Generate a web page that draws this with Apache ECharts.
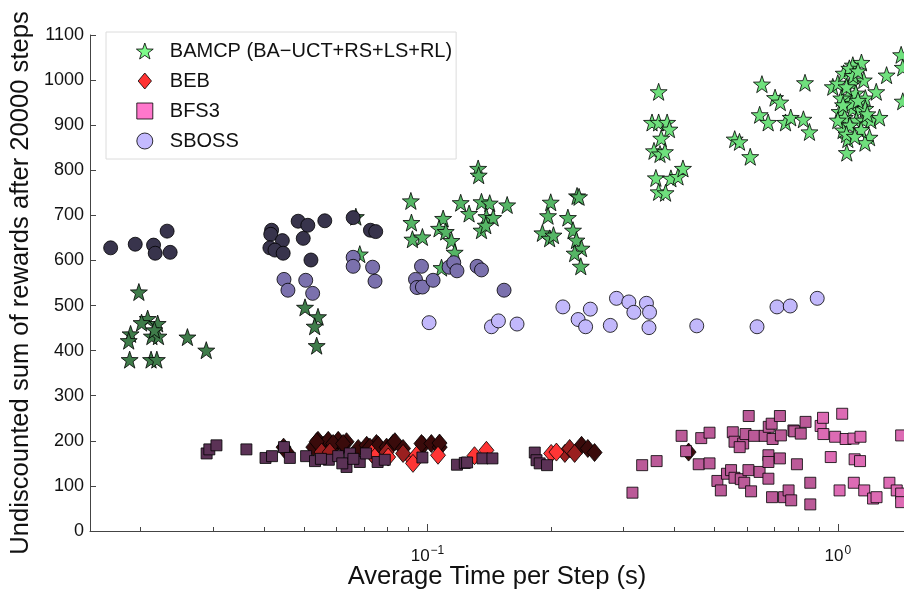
<!DOCTYPE html>
<html><head><meta charset="utf-8">
<script src="https://cdn.jsdelivr.net/npm/echarts@6/dist/echarts.min.js"></script>
<style>html,body{margin:0;padding:0;background:#fff}#c{width:904px;height:590px}</style>
</head><body><div id="c"></div>
<script>
// [time per step (s), undiscounted reward, shade level]
const bamcp = [
 [0.0198,530,1],[0.0208,471,1],[0.0201,462,1],[0.0220,460,1],[0.0189,437,1],[0.0187,422,1],[0.0213,432,1],[0.0221,432,1],[0.0216,446,1],
 [0.0188,380,1],[0.0212,380,1],[0.0219,380,1],[0.0260,430,1],[0.0289,401,1],[0.0503,496,1],[0.0541,475,1],[0.0531,454,1],[0.0537,411,1],[0.0669,697,1],
 [0.0684,614,2],[0.0911,732,2],[0.0914,684,2],[0.0919,647,2],[0.0972,652,2],[0.1092,693,2],[0.1067,671,2],[0.1108,664,2],[0.1144,644,2],[0.1165,618,2],
 [0.1082,584,2],[0.1205,728,2],[0.1263,704,2],[0.1329,804,2],[0.1333,789,2],[0.1354,730,2],[0.1418,727,2],[0.1392,697,2],[0.1446,695,2],[0.1354,667,2],
 [0.1387,678,2],[0.1564,723,2],[0.1997,729,2],[0.1967,699,2],[0.1906,661,2],[0.1985,649,2],[0.2028,656,2],[0.2199,695,2],[0.2263,667,2],[0.2307,645,2],
 [0.2374,627,2],[0.2284,616,2],[0.2364,587,2],[0.2315,743,2],[0.2341,741,2],
 [0.3659,974,3],[0.3526,906,3],[0.3659,906,3],[0.3838,906,3],[0.3888,891,3],[0.3713,871,3],[0.3565,843,3],[0.3687,836,3],[0.3790,841,3],[0.3603,783,3],
 [0.3920,782,3],[0.4080,786,3],[0.4194,804,3],[0.3659,752,3],[0.3804,750,3],[0.5607,869,3],[0.5760,863,3],[0.6118,830,3],[0.6534,991,3],[0.6450,923,3],
 [0.6766,906,3],[0.7033,961,3],[0.7241,951,3],[0.7457,906,3],[0.7679,917,3],[0.8246,913,3],[0.8530,885,3],[0.8320,994,3],
 [0.9723,985,3],[1.000,993,3],[1.034,1015,3],[1.088,1033,3],[1.142,1039,3],[1.067,1026,3],[1.157,1000,3],[1.088,993,3],[1.058,963,3],[1.106,971,3],
 [1.167,960,3],[1.241,974,3],[1.315,1011,3],[1.010,930,3],[1.040,917,3],[1.088,937,3],[1.130,934,3],[1.167,937,3],[1.110,911,3],[1.157,911,3],
 [1.204,911,3],[1.264,917,3],[1.030,889,3],[1.058,869,3],[1.052,839,3],[1.195,873,3],[1.165,861,3],[1.000,911,3],[1.078,948,3],
 [1.020,960,3],[1.050,985,3],[1.120,955,3],[1.070,900,3],[1.140,890,3],[1.030,945,3],[1.090,1010,3],[1.120,1020,3],[1.180,925,3],[1.050,880,3],[1.100,875,3],
 [1.427,1056,3],[1.440,1028,3],[1.440,953,3]
];
const beb = [
 [0.0446,186,1],[0.0454,175,1],[0.0527,186,1],[0.0541,201,1],[0.0557,190,1],[0.0573,201,1],[0.0589,186,1],[0.0606,201,1],[0.0623,190,1],[0.0635,198,1],
 [0.0537,198,1],[0.0589,194,1],[0.0623,194,1],[0.0678,183,1],[0.0711,190,1],[0.0751,194,1],[0.0724,186,1],[0.0759,190,1],[0.0795,186,1],[0.0824,194,1],
 [0.0833,198,1],[0.0872,183,1],[0.0976,190,1],[0.0967,194,1],[0.1022,194,1],[0.1071,186,1],[0.1070,195,1],[0.2374,190,1],[0.2459,183,1],[0.2554,174,1],[0.4329,175,1],
 [0.0552,175,2],[0.0578,175,2],[0.0872,172,2],[0.2162,172,2],[0.2221,183,2],[0.2284,172,2],[0.0795,175,2],
 [0.0731,172,3],[0.0744,164,3],[0.0922,157,3],[0.0940,168,3],[0.0922,150,3],[0.1061,168,3],[0.1302,167,3],[0.1392,179,3],[0.2002,172,3],[0.2062,175,3],[0.0802,164,3]
];
const bfs3 = [
 [0.02896,172,1],[0.0294,181,1],[0.0306,190,1],[0.0362,181,1],[0.0403,162,1],[0.0418,166,1],[0.0447,186,1],[0.0462,162,1],[0.0506,166,1],[0.0532,155,1],
 [0.0575,158,1],[0.0606,166,1],[0.0635,142,1],[0.0647,172,1],[0.0684,153,1],[0.0708,172,1],[0.0756,153,1],[0.0787,158,1],[0.0972,163,1],[0.1180,147,1],
 [0.1233,151,1],[0.1249,152,1],[0.1361,161,1],[0.1440,161,1],[0.1826,174,1],[0.1844,157,1],[0.1877,150,1],[0.1956,146,1],[0.0550,160,1],[0.0620,150,1],[0.0660,160,1],
 [0.3159,85,2],[0.3336,146,2],[0.3618,155,2],[0.4162,211,2],[0.4269,177,2],[0.4647,206,2],[0.4869,218,2],[0.4582,148,2],[0.4869,150,2],[0.5088,111,2],
 [0.5188,90,2],[0.5370,127,2],[0.5494,135,2],[0.5548,219,2],[0.5601,198,2],[0.5880,194,2],[0.5767,186,2],[0.5959,215,2],[0.6066,255,2],[0.5601,118,2],
 [0.5802,115,2],[0.5917,107,2],[0.6056,135,2],[0.6147,88,2],[0.6254,211,2],[0.6448,131,2],[0.6634,211,2],[0.6775,168,2],[0.6775,153,2],[0.6775,116,2],
 [0.6788,231,2],[0.6900,238,2],[0.6937,204,2],[0.7227,255,2],[0.7267,212,2],[0.7227,161,2],[0.6915,75,2],[0.7397,75,2],[0.7588,90,2],[0.7699,68,2],
 [0.7795,223,2],[0.7836,221,2],[0.8124,216,2],[0.7951,148,2],[0.8345,242,2],[0.8570,107,2],[0.8570,59,2],
 [0.9082,233,3],[0.9205,251,3],[0.9223,215,3],[0.9613,164,3],[0.9850,209,3],[1.010,90,3],[1.025,260,3],[1.045,204,3],[1.092,205,3],[1.136,209,3],
 [1.099,159,3],[1.133,155,3],[1.094,107,3],[1.160,90,3],[1.219,72,3],[1.243,75,3],[1.336,107,3],[1.392,90,3],[1.427,212,3],[1.427,83,3],[1.427,64,3]
];
const sboss = [
 [0.0169,628,1],[0.0194,636,1],[0.0215,634,1],[0.0217,616,1],[0.0232,665,1],[0.0236,618,1],[0.0417,667,1],[0.0415,658,1],[0.0443,644,1],[0.0413,628,1],
 [0.0425,623,1],[0.0445,616,1],[0.0484,687,1],[0.0511,678,1],[0.0498,649,1],[0.0520,601,1],[0.0562,688,1],[0.0659,695,1],[0.0726,667,1],[0.0748,664,1],
 [0.0447,558,2],[0.0457,534,2],[0.0505,556,2],[0.0525,527,2],[0.0659,607,2],[0.0659,587,2],[0.0735,585,2],[0.0745,554,2],[0.0967,587,2],[0.0935,558,2],
 [0.0943,540,2],[0.0972,541,2],[0.1032,556,2],[0.1129,585,2],[0.1159,595,2],[0.1180,577,2],[0.1321,587,2],[0.1354,579,2],[0.1537,534,2],
 [0.1009,462,3],[0.1432,453,3],[0.1489,466,3],[0.1653,459,3],[0.2138,497,3],[0.2494,492,3],[0.2329,469,3],[0.2429,453,3],[0.2790,456,3],[0.2888,516,3],
 [0.3096,508,3],[0.3417,505,3],[0.3184,485,3],[0.3477,485,3],[0.3466,451,3],[0.4532,455,3],[0.6356,453,3],[0.7108,497,3],[0.7657,499,3],[0.8910,516,3]
];
const seriesNames = ['BAMCP (BA\u2212UCT+RS+LS+RL)','BEB','BFS3','SBOSS'];
const yTicks = [0,100,200,300,400,500,600,700,800,900,1000,1100];
const xMajor = [0.1, 1];
const xMinor = [0.02,0.03,0.04,0.05,0.06,0.07,0.08,0.09,0.2,0.3,0.4,0.5,0.6,0.7,0.8,0.9];

const STAR = 'path://M1,0 L1.235,0.676 L1.951,0.691 L1.38,1.124 L1.588,1.809 L1,1.4 L0.412,1.809 L0.62,1.124 L0.049,0.691 L0.765,0.676 Z';
const DIAMOND_ICON = 'path://M0.5,0 L1,0.6 L0.5,1.2 L0,0.6 Z';
const SQUARE_ICON = 'path://M0,0 L1,0 L1,1 L0,1 Z';
const shades = {
  star: [null,'#3f7c4a','#55b565','#6fe07d'],
  diamond: [null,'#3a0b0b','#9a1f1f','#ff3535'],
  rect: [null,'#5b3256','#bb5a98','#dd6bb4'],
  circle: [null,'#38344c','#7b71ad','#c2b8fb']
};
const legendColors = ['#7dfb8a','#ff3333','#ff77cc','#c4baff'];
const FONT = '"Liberation Sans", Arial, Helvetica, sans-serif';

function mk(name, data, symbol, size, pal, z) {
  return {
    name, type:'scatter', data, symbol, symbolSize:size, z,
    itemStyle:{ color: p => pal[p.data[2]], borderColor:'#000', borderWidth:0.8, opacity:1 },
    emphasis:{disabled:true}
  };
}
const chart = echarts.init(document.getElementById('c'), null, {renderer:'canvas'});
chart.setOption({
  animation:false,
  backgroundColor:'#fff',
  textStyle:{fontFamily:FONT},
  grid:{left:90, top:35, right:0, bottom:59, containLabel:false, outerBoundsMode:'none'},
  legend:{
    orient:'vertical', left:106, top:32,
    padding:[9,4,8,30], itemGap:10, itemWidth:40, itemHeight:16,
    borderColor:'#dcdcdc', borderWidth:1, backgroundColor:'#fff',
    textStyle:{fontSize:20, color:'#111', fontFamily:FONT},
    data:[
      {name:seriesNames[0], icon:STAR, itemStyle:{color:legendColors[0], borderColor:'#000', borderWidth:0.8}},
      {name:seriesNames[1], icon:DIAMOND_ICON, itemStyle:{color:legendColors[1], borderColor:'#000', borderWidth:0.8}},
      {name:seriesNames[2], icon:SQUARE_ICON, itemStyle:{color:legendColors[2], borderColor:'#000', borderWidth:0.8}},
      {name:seriesNames[3], icon:'circle', itemStyle:{color:legendColors[3], borderColor:'#000', borderWidth:0.8}}
    ]
  },
  xAxis:[{
    type:'log', logBase:10, min:0.01505, max:1.45,
    name:'Average Time per Step (s)', nameLocation:'middle', nameGap:33, nameMoveOverlap:false,
    nameTextStyle:{fontSize:25.6, color:'#111', fontFamily:FONT},
    axisLine:{show:true, lineStyle:{color:'#444', width:1}},
    axisTick:{show:true, inside:true, length:4, lineStyle:{color:'#444'}, customValues:xMinor},
    axisLabel:{show:true, customValues:xMajor, margin:14, color:'#111',
      formatter: v => v < 0.5 ? '{b|10}{s|\u22121}' : '{b|10}{s|0}',
      rich:{ b:{fontSize:17, color:'#111', fontFamily:FONT}, s:{fontSize:12, color:'#111', fontFamily:FONT, padding:[0,0,10,1]} } },
    splitLine:{show:false}, minorTick:{show:false}
  },{
    type:'log', logBase:10, min:0.01505, max:1.45, gridIndex:0, position:'bottom',
    axisLine:{show:false},
    axisTick:{show:true, inside:true, length:7, lineStyle:{color:'#444'}, customValues:xMajor},
    axisLabel:{show:false}, splitLine:{show:false}
  }],
  yAxis:{
    type:'value', min:0, max:1100, interval:100,
    name:'Undiscounted sum of rewards after 20000 steps', nameLocation:'middle', nameGap:56, nameMoveOverlap:false,
    nameTextStyle:{fontSize:25.6, color:'#111', fontFamily:FONT},
    axisLine:{show:true, lineStyle:{color:'#444', width:1}},
    axisTick:{show:true, inside:true, length:6, lineStyle:{color:'#444'}},
    axisLabel:{fontSize:18, color:'#111', margin:6, fontFamily:FONT, customValues:yTicks, formatter: v => String(v)},
    splitLine:{show:false}
  },
  series:[
    mk(seriesNames[0], bamcp, STAR, 17, shades.star, 2),
    mk(seriesNames[1], beb, 'diamond', [15,18], shades.diamond, 3),
    mk(seriesNames[2], bfs3, 'rect', 11, shades.rect, 4),
    mk(seriesNames[3], sboss, 'circle', 14, shades.circle, 5)
  ]
});
</script></body></html>
